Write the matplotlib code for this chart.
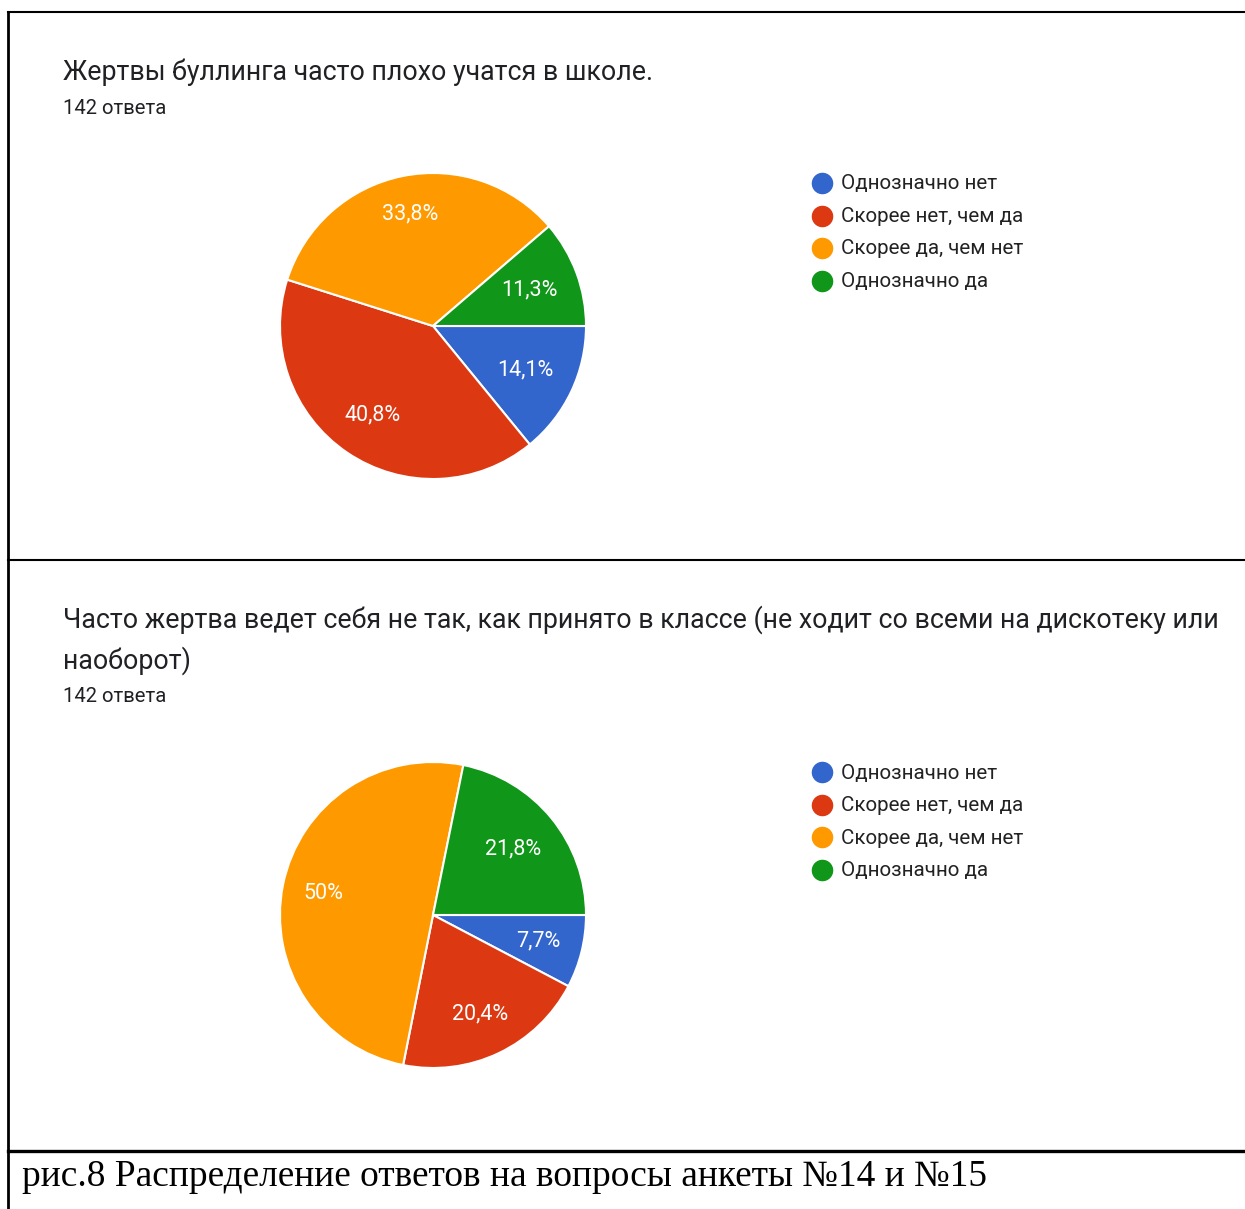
import numpy as np
import matplotlib.pyplot as plt

W, H = 1245, 1209

categories = ['Однозначно нет', 'Скорее нет, чем да', 'Скорее да, чем нет', 'Однозначно да']
colors = ['#3366cc', '#dc3912', '#ff9900', '#109618']

q14_title = ['Жертвы буллинга часто плохо учатся в школе.']
q14_values = [14.1, 40.8, 33.8, 11.3]
q14_labels = ['14,1%', '40,8%', '33,8%', '11,3%']

q15_title = ['Часто жертва ведет себя не так, как принято в классе (не ходит со всеми на дискотеку или',
             'наоборот)']
q15_values = [7.7, 20.4, 50.0, 21.8]
q15_labels = ['7,7%', '20,4%', '50%', '21,8%']

answers = '142 ответа'
caption = 'рис.8 Распределение ответов на вопросы анкеты №14 и №15'

plt.rcParams['font.family'] = ['Roboto', 'DejaVu Sans']

fig = plt.figure(figsize=(W / 100, H / 100), dpi=100)

# overlay in pixel coordinates for frame lines and texts
ov = fig.add_axes([0, 0, 1, 1])
ov.set_xlim(0, W)
ov.set_ylim(H, 0)
ov.axis('off')

ov.plot([8, W], [12, 12], color='black', lw=1.5)
ov.plot([8, W], [560, 560], color='black', lw=1.5)
ov.plot([8, W], [1151, 1151], color='black', lw=2.4)
ov.plot([8, 8], [12, H], color='black', lw=2)


def panel(y0, title, values, labels, dists, cy, legend_y):
    for k, line in enumerate(title):
        ov.text(63, y0 + 1 + k * 41, line, fontsize=19.3, color='#202124', va='center')
    ov.text(63, y0 + 37 + (len(title) - 1) * 41, answers, fontsize=14.6,
            color='#202124', va='center')
    cx, r = 433, 153
    ax = fig.add_axes([(cx - r) / W, 1 - (cy + r) / H, 2 * r / W, 2 * r / H])
    wedges, texts = ax.pie(values, colors=colors, startangle=0, counterclock=False,
                           labels=labels, labeldistance=1.0,
                           textprops=dict(color='white', fontsize=15.5,
                                          ha='center', va='center'),
                           wedgeprops=dict(edgecolor='white', linewidth=1.5))
    for t, d in zip(texts, dists):
        x, y = t.get_position()
        t.set_position((x * d, y * d))
    for w in wedges:
        w.set_clip_on(False)
    ax.set_xlim(-1, 1)
    ax.set_ylim(-1, 1)
    ax.set_aspect('equal')
    for i, cat in enumerate(categories):
        y = legend_y + i * 32.5
        ov.scatter([822], [y], s=210, color=colors[i], zorder=3)
        ov.text(841, y + 1, cat, fontsize=14.8, color='#222222', va='center')


panel(71, q14_title, q14_values, q14_labels, [0.67, 0.70, 0.75, 0.67], 326, 183)
panel(619, q15_title, q15_values, q15_labels, [0.71, 0.72, 0.73, 0.68], 915, 772)

ov.text(22, 1177, caption, fontsize=26.9, color='black', va='center',
        family=['Liberation Serif', 'DejaVu Serif'])

fig.savefig('out.png', dpi=100)
